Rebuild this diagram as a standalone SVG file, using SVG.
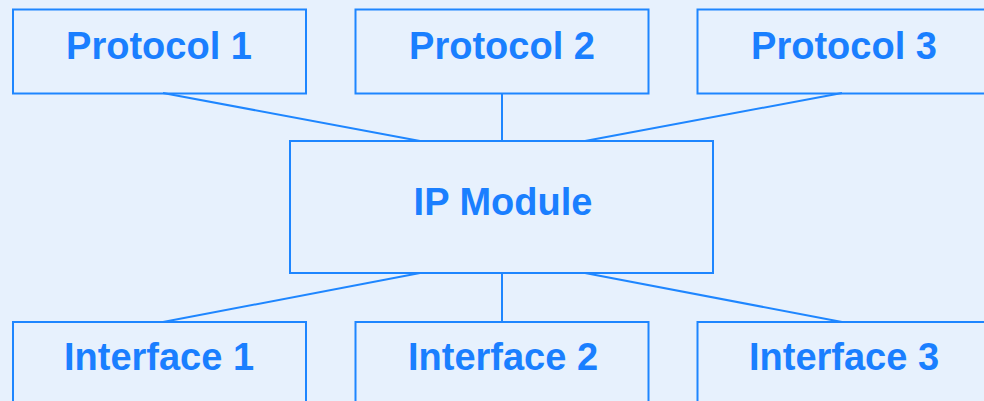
<svg xmlns="http://www.w3.org/2000/svg" width="984" height="401" viewBox="0 0 984 401">
<style>
.box{fill:none;stroke:#1e86ff;stroke-width:2}
.lbl{font-family:"Liberation Sans",Arial,sans-serif;font-weight:bold;font-size:38px;fill:#1a7fff;text-anchor:middle}
.con line{stroke:#1e86ff;stroke-width:2}
</style>
<rect width="984" height="401" fill="#e7f1fd"/>
<g class="con">
<line x1="163" y1="93" x2="420" y2="141"/>
<line x1="502" y1="93" x2="502" y2="141"/>
<line x1="842" y1="93" x2="585" y2="141"/>
<line x1="420" y1="273" x2="163" y2="322"/>
<line x1="502" y1="273" x2="502" y2="322"/>
<line x1="585" y1="273" x2="842" y2="322"/>
</g>
<g id="protocol1"><rect class="box" x="13" y="9.5" width="293" height="84"/><text class="lbl" x="159" y="58.5">Protocol 1</text></g>
<g id="protocol2"><rect class="box" x="355.5" y="9.5" width="293" height="84"/><text class="lbl" x="502" y="58.5">Protocol 2</text></g>
<g id="protocol3"><rect class="box" x="697.5" y="9.5" width="293" height="84"/><text class="lbl" x="844" y="58.5">Protocol 3</text></g>
<g id="ipmodule"><rect class="box" x="290" y="141" width="423" height="132"/><text class="lbl" x="503" y="215">IP Module</text></g>
<g id="interface1"><rect class="box" x="13" y="322" width="293" height="90"/><text class="lbl" x="159" y="370">Interface 1</text></g>
<g id="interface2"><rect class="box" x="355.5" y="322" width="293" height="90"/><text class="lbl" x="503" y="370">Interface 2</text></g>
<g id="interface3"><rect class="box" x="697.5" y="322" width="293" height="90"/><text class="lbl" x="844" y="370">Interface 3</text></g>
</svg>
